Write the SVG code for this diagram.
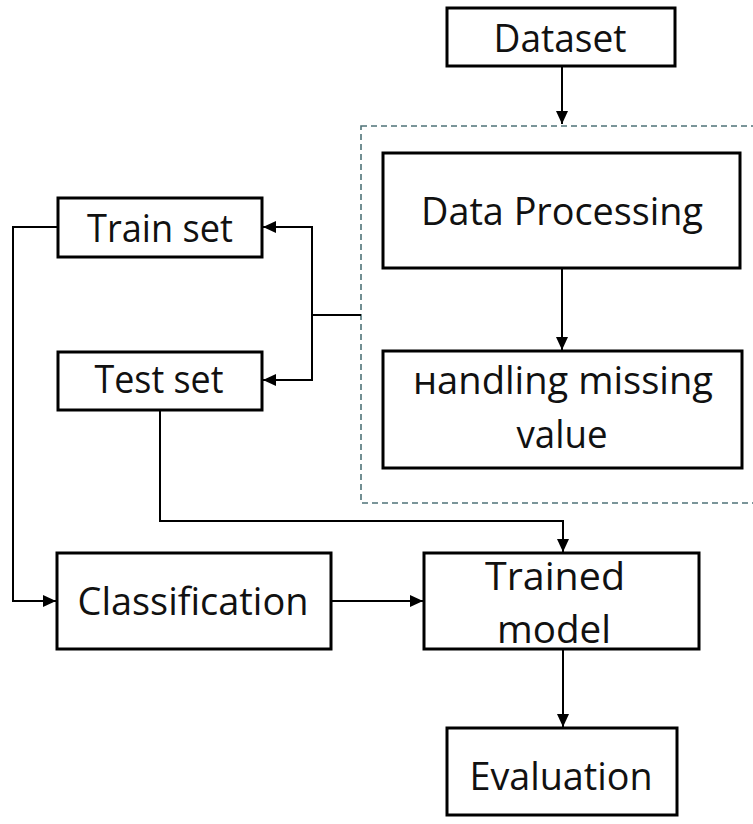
<svg xmlns="http://www.w3.org/2000/svg" width="753" height="824" viewBox="0 0 753 824">
  <style>
    .box { fill: #ffffff; stroke: #000000; stroke-width: 3; }
    .lbl { font-family: "Open Sans", "Noto Sans", sans-serif; font-size: 38px; fill: #111111; text-anchor: middle; }
    .wire { fill: none; stroke: #000000; stroke-width: 2; }
    .group { fill: none; stroke: #4f7378; stroke-width: 1.6; stroke-dasharray: 6 4; }
  </style>
  <defs>
    <marker id="arrow" markerUnits="userSpaceOnUse" markerWidth="14" markerHeight="12" refX="13" refY="6" orient="auto">
      <path d="M0,0 L13,6 L0,12 z" fill="#000000"/>
    </marker>
  </defs>

  <rect width="753" height="824" fill="#ffffff"/>

  <!-- preprocessing group frame -->
  <rect id="preprocessing" class="group" x="361" y="126" width="400" height="377"/>

  <g id="connectors">
    <path class="wire" d="M562,66 V124" marker-end="url(#arrow)"/>
    <path class="wire" d="M562,268 V350" marker-end="url(#arrow)"/>
    <path class="wire" d="M361,315 H312"/>
    <path class="wire" d="M312,315 V227 H263" marker-end="url(#arrow)"/>
    <path class="wire" d="M312,315 V380 H263" marker-end="url(#arrow)"/>
    <path class="wire" d="M58,227 H13 V601 H56" marker-end="url(#arrow)"/>
    <path class="wire" d="M160,410 V521 H563 V552" marker-end="url(#arrow)"/>
    <path class="wire" d="M331,601 H423" marker-end="url(#arrow)"/>
    <path class="wire" d="M563,649 V727" marker-end="url(#arrow)"/>
  </g>

  <g id="dataset">
    <rect class="box" x="447" y="8" width="228" height="58"/>
    <text class="lbl" x="560" y="52" textLength="133" lengthAdjust="spacingAndGlyphs">Dataset</text>
  </g>

  <g id="data-processing">
    <rect class="box" x="383" y="153" width="357" height="115"/>
    <text class="lbl" x="562" y="225" textLength="282" lengthAdjust="spacingAndGlyphs">Data Processing</text>
  </g>

  <g id="handling-missing">
    <rect class="box" x="383" y="351" width="359" height="117"/>
    <text class="lbl" x="563" y="394" textLength="300" lengthAdjust="spacingAndGlyphs">нandling missing</text>
    <text class="lbl" x="562" y="448" textLength="91" lengthAdjust="spacingAndGlyphs">value</text>
  </g>

  <g id="train-set">
    <rect class="box" x="58" y="198" width="204" height="59"/>
    <text class="lbl" x="160" y="242" textLength="146" lengthAdjust="spacingAndGlyphs">Train set</text>
  </g>

  <g id="test-set">
    <rect class="box" x="58" y="352" width="204" height="58"/>
    <text class="lbl" x="159" y="393" textLength="129" lengthAdjust="spacingAndGlyphs">Test set</text>
  </g>

  <g id="classification">
    <rect class="box" x="57" y="553" width="274" height="96"/>
    <text class="lbl" x="193" y="615" textLength="231" lengthAdjust="spacingAndGlyphs">Classification</text>
  </g>

  <g id="trained-model">
    <rect class="box" x="424" y="553" width="275" height="96"/>
    <text class="lbl" x="555" y="590" textLength="140" lengthAdjust="spacingAndGlyphs">Trained</text>
    <text class="lbl" x="554" y="643" textLength="114" lengthAdjust="spacingAndGlyphs">model</text>
  </g>

  <g id="evaluation">
    <rect class="box" x="447" y="728" width="230" height="87"/>
    <text class="lbl" x="561" y="790" textLength="183" lengthAdjust="spacingAndGlyphs">Evaluation</text>
  </g>
</svg>
